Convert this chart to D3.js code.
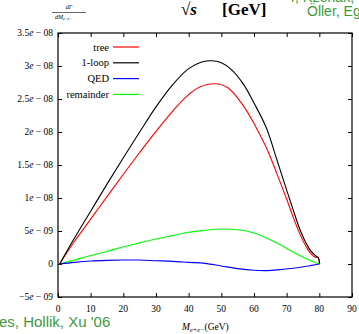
<!DOCTYPE html>
<html>
<head>
<meta charset="utf-8">
<script src="https://cdn.jsdelivr.net/npm/d3@7"></script>
<style>
  body { margin: 0; background: #fff; }
  svg { display: block; }
</style>
</head>
<body>
<div id="chart"></div>
<script>
// values in units of 1e-9
const massTree  = [0.5, 5, 10, 15, 20, 25, 30, 35, 39.4, 43.4, 48, 52, 56.7, 60, 63.8, 67, 70.1, 72, 74, 76, 77.5, 79, 79.6, 80.1];
const tree      = [0, 3.4, 6.8, 10.2, 13.6, 16.9, 20.1, 23.1, 25.4, 26.8, 27.3, 26.7, 24.0, 21.3, 17.6, 13.7, 9.7, 7.1, 4.6, 2.6, 1.5, 1.0, 1.0, 0];
const massLoop  = [0.5, 5, 10, 15, 20, 25, 30, 35, 40, 44, 47, 50, 53, 56.7, 60, 63.8, 67, 70, 72, 74, 76, 77.5, 79, 79.7, 80.1];
const oneLoop   = [0, 3.9, 8.0, 12.1, 16.1, 20.0, 23.8, 27.1, 29.6, 30.6, 30.8, 30.5, 29.5, 27.3, 24.4, 20.6, 15.8, 11.2, 8.2, 5.3, 3.1, 1.9, 1.2, 0.9, 0];
const massSmall = [0.5, 5, 10, 15, 20, 25, 30, 35, 40, 45, 50, 55, 60, 64, 68, 72, 76, 80];
const qed       = [0, 0.25, 0.45, 0.55, 0.6, 0.6, 0.5, 0.4, 0.25, 0.1, -0.3, -0.7, -0.95, -1.0, -0.85, -0.65, -0.35, 0];
const remainder = [0, 0.6, 1.3, 1.9, 2.6, 3.2, 3.8, 4.3, 4.8, 5.1, 5.3, 5.2, 4.7, 3.9, 2.9, 1.8, 0.8, 0];

const xTicks = [0, 10, 20, 30, 40, 50, 60, 70, 80, 90];
const yTicks = [-5e-9, 0, 5e-9, 1e-8, 1.5e-8, 2e-8, 2.5e-8, 3e-8, 3.5e-8];
const yTickLabels = ["−5e − 09", "0", "5e − 09", "1e − 08", "1.5e − 08", "2e − 08", "2.5e − 08", "3e − 08", "3.5e − 08"];

const seriesNames = ["tree", "1-loop", "QED", "remainder"];
const seriesColors = ["#ff0000", "#000000", "#0000ff", "#00ff00"];

const W = 359, H = 334;
const x0 = 58, x1 = 352, y0 = 33, y1 = 297;

const svg = d3.select("#chart").append("svg")
    .attr("width", W)
    .attr("height", H);

const xScale = d3.scaleLinear().domain([0, 90]).range([x0, x1]);
const yScale = d3.scaleLinear().domain([-5e-9, 3.5e-8]).range([y1, y0]);

const serif = "'Liberation Serif', 'DejaVu Serif', serif";
const sans = "'Liberation Sans', Arial, sans-serif";
const green = "#3d9a3d";

// tick marks on all four sides, pointing inward
function ticksOnly(axis, transform) {
    const g = svg.append("g")
        .attr("transform", transform)
        .call(axis.tickSize(-4).tickSizeOuter(0).tickFormat(""));
    g.select(".domain").remove();
    g.selectAll("line").attr("stroke", "#000");
    return g;
}
ticksOnly(d3.axisBottom(xScale).tickValues(xTicks), `translate(0,${y1})`);
ticksOnly(d3.axisTop(xScale).tickValues(xTicks), `translate(0,${y0})`);
ticksOnly(d3.axisLeft(yScale).tickValues(yTicks), `translate(${x0},0)`);
ticksOnly(d3.axisRight(yScale).tickValues(yTicks), `translate(${x1},0)`);

// tick labels
svg.append("g").selectAll("text")
    .data(xTicks)
    .enter()
    .append("text")
    .attr("x", d => xScale(d))
    .attr("y", 312)
    .attr("text-anchor", "middle")
    .attr("font-family", serif)
    .attr("font-size", 9.5)
    .text(d => d);

svg.append("g").selectAll("text")
    .data(yTicks)
    .enter()
    .append("text")
    .attr("x", 53)
    .attr("y", d => yScale(d) + 3)
    .attr("text-anchor", "end")
    .attr("font-family", serif)
    .attr("font-size", 9.5)
    .each(function(d, i) {
        const lab = yTickLabels[i];
        const t = d3.select(this);
        const k = lab.indexOf("e");
        if (k < 0) { t.text(lab); return; }
        t.append("tspan").text(lab.slice(0, k));
        t.append("tspan").attr("font-style", "italic").text("e");
        t.append("tspan").text(lab.slice(k + 1));
    });

// curves
const line = d3.line()
    .x(d => xScale(d[0]))
    .y(d => yScale(d[1] * 1e-9))
    .curve(d3.curveCatmullRom.alpha(0.5));

const curves = [
    [massSmall, remainder, seriesColors[3]],
    [massSmall, qed, seriesColors[2]],
    [massTree, tree, seriesColors[0]],
    [massLoop, oneLoop, seriesColors[1]]
];
curves.forEach(c => {
    svg.append("path")
        .datum(c[0].map((m, i) => [m, c[1][i]]))
        .attr("fill", "none")
        .attr("stroke", c[2])
        .attr("stroke-width", 1.1)
        .attr("d", line);
});

// frame
svg.append("rect")
    .attr("x", x0).attr("y", y0)
    .attr("width", x1 - x0).attr("height", y1 - y0)
    .attr("fill", "none")
    .attr("stroke", "#000")
    .attr("stroke-width", 1.2);

// legend
const legend = svg.append("g");
seriesNames.forEach((name, i) => {
    const ly = 47 + i * 15.8;
    legend.append("text")
        .attr("x", 109)
        .attr("y", ly + 3.5)
        .attr("text-anchor", "end")
        .attr("font-family", serif)
        .attr("font-size", 10.5)
        .text(name);
    legend.append("line")
        .attr("x1", 113).attr("x2", 139)
        .attr("y1", ly).attr("y2", ly)
        .attr("stroke", seriesColors[i])
        .attr("stroke-width", 1.2);
});

// y title as a small fraction
svg.append("text")
    .attr("x", 69).attr("y", 9)
    .attr("text-anchor", "middle")
    .attr("font-family", serif)
    .attr("font-style", "italic")
    .attr("font-size", 6)
    .text("dΓ");
svg.append("line")
    .attr("x1", 52).attr("x2", 86)
    .attr("y1", 12.5).attr("y2", 12.5)
    .attr("stroke", "#000")
    .attr("stroke-width", 0.6);
const den = svg.append("text")
    .attr("x", 55).attr("y", 18.5)
    .attr("font-family", serif)
    .attr("font-style", "italic")
    .attr("font-size", 6);
den.append("tspan").text("dM");
den.append("tspan").attr("font-size", 4).attr("dy", 1.5).text("e+e−");

// sqrt(s) heading
const head = svg.append("text")
    .attr("y", 15)
    .attr("font-family", serif)
    .attr("font-weight", "bold")
    .attr("font-size", 17);
head.append("tspan").attr("x", 181).text("√");
head.append("tspan").attr("font-style", "italic").text("s");
head.append("tspan").attr("x", 222).text("[GeV]");

// x title
const xt = svg.append("text")
    .attr("x", 182).attr("y", 330)
    .attr("font-family", serif)
    .attr("font-size", 9.5);
xt.append("tspan").attr("font-style", "italic").text("M");
xt.append("tspan").attr("font-size", 6.5).attr("font-style", "italic").attr("dy", 1.5).text("e+e−");
xt.append("tspan").attr("dy", -1.5).text("(GeV)");

// author credits, cut at the edges as in the original slide
svg.append("text")
    .attr("x", 291).attr("y", 2)
    .attr("font-family", sans)
    .attr("font-size", 14)
    .attr("fill", green)
    .text("r, Rzehak,");
svg.append("text")
    .attr("x", 307).attr("y", 15.5)
    .attr("font-family", sans)
    .attr("font-size", 14)
    .attr("fill", green)
    .text("Öller, Eggert");
svg.append("text")
    .attr("x", -1).attr("y", 327)
    .attr("font-family", sans)
    .attr("font-size", 15)
    .attr("fill", green)
    .text("es, Hollik, Xu '06");
</script>
</body>
</html>
